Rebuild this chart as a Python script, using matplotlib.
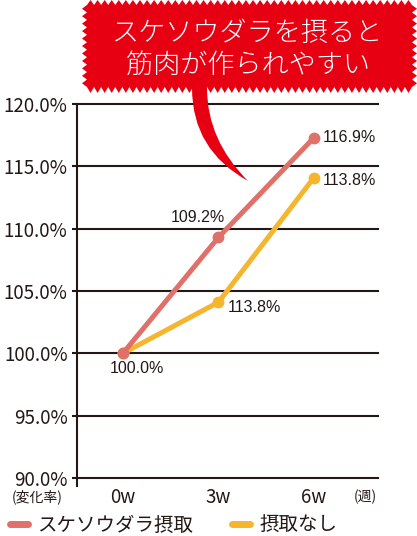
import numpy as np
import matplotlib
matplotlib.use("Agg")
import matplotlib.pyplot as plt
from matplotlib.path import Path
from matplotlib.patches import PathPatch, Polygon
from matplotlib.lines import Line2D

plt.rcParams['font.family'] = ['Noto Sans CJK JP', 'DejaVu Sans']

# ---- data ----
categories = ['0w', '3w', '6w']
series_names = ['スケソウダラ摂取', '摂取なし']
intake_values = [100.0, 109.3, 117.3]
no_intake_values = [100.0, 104.1, 114.1]
intake_labels = ['100.0%', '109.2%', '116.9%']
no_intake_labels = ['', '113.8%', '113.8%']
y_ticks = [90, 95, 100, 105, 110, 115, 120]
y_ticklabels = ['90.0%', '95.0%', '100.0%', '105.0%', '110.0%', '115.0%', '120.0%']
callout_lines = ['スケソウダラを摂ると', '筋肉が作られやすい']

RED = '#e0706a'
YEL = '#f5b52e'
DARK = '#231815'
BUBBLE = '#e60012'

W, H = 417, 536
fig = plt.figure(figsize=(W / 100, H / 100), dpi=100)
fig.patch.set_facecolor('white')

left_px, right_px, top_px, bot_px = 77, 378, 104, 486
ax = fig.add_axes([left_px / W, 1 - bot_px / H, (right_px - left_px) / W, (bot_px - top_px) / H])
ax.set_facecolor('none')

x = np.arange(len(categories))
ax.set_xlim(-0.48, 2.67)
ax.set_ylim(89.36, 120.0)

for v in y_ticks:
    ax.axhline(v, color=DARK, lw=1.5, zorder=1, clip_on=False)

ax.plot(x, intake_values, color=RED, lw=3.6, marker='o', ms=7.5, zorder=4,
        solid_capstyle='round', label=series_names[0])
ax.plot(x, no_intake_values, color=YEL, lw=3.6, marker='o', ms=7.5, zorder=3,
        solid_capstyle='round', label=series_names[1])

for s in ['top', 'right', 'bottom']:
    ax.spines[s].set_visible(False)
ax.spines['left'].set_color(DARK)
ax.spines['left'].set_linewidth(1.5)

ax.set_yticks(y_ticks)
ax.set_yticklabels(y_ticklabels, fontsize=13.5, color=DARK)
ax.tick_params(axis='y', length=3.8, width=1.5, color=DARK, pad=3)
ax.set_xticks(x)
ax.set_xticklabels(categories, fontsize=13.5, color=DARK)
ax.tick_params(axis='x', length=0, pad=1)

lab_font = dict(fontsize=11.5, color=DARK, family=['Liberation Sans', 'DejaVu Sans'])
# data labels
ax.annotate(intake_labels[0], (x[0], intake_values[0]), xytext=(10, -11),
            textcoords='offset points', ha='center', va='center', **lab_font)
ax.annotate(intake_labels[1], (x[1], intake_values[1]), xytext=(-15, 14.5),
            textcoords='offset points', ha='center', va='center', **lab_font)
ax.annotate(intake_labels[2], (x[2], intake_values[2]), xytext=(6, 0),
            textcoords='offset points', ha='left', va='center', **lab_font)
ax.annotate(no_intake_labels[1], (x[1], no_intake_values[1]), xytext=(6.5, -3.6),
            textcoords='offset points', ha='left', va='center', **lab_font)
ax.annotate(no_intake_labels[2], (x[2], no_intake_values[2]), xytext=(6, -2),
            textcoords='offset points', ha='left', va='center', **lab_font)

# overlay in pixel coordinates for callout and small labels
ov = fig.add_axes([0, 0, 1, 1], zorder=10)
ov.set_xlim(0, W)
ov.set_ylim(H, 0)
ov.set_axis_off()
ov.patch.set_alpha(0)

ov.text(37, 497, '(変化率)', fontsize=10, color=DARK, ha='center', va='center')
ov.text(365, 497, '(週)', fontsize=10, color=DARK, ha='center', va='center')

# zigzag bubble
x0, x1, y0, y1 = 87, 412, 5, 87
amp, per = 5, 7.0
pts = []
n_h = int((x1 - x0) / per)
xs = np.linspace(x0, x1, n_h * 2 + 1)
for i, xx in enumerate(xs):
    pts.append((xx, y0 - (amp if i % 2 else 0)))
n_v = int((y1 - y0) / per)
ys = np.linspace(y0, y1, n_v * 2 + 1)
for i, yy in enumerate(ys[1:], 1):
    pts.append((x1 + (amp if i % 2 else 0), yy))
for i, xx in enumerate(xs[::-1][1:], 1):
    pts.append((xx, y1 + (amp + 1 if i % 2 else 0)))
for i, yy in enumerate(ys[::-1][1:-1], 1):
    pts.append((x0 - (amp if i % 2 else 0), yy))
ov.add_patch(Polygon(pts, closed=True, facecolor=BUBBLE, edgecolor='none'))

# tail
verts = [(192, 80), (192, 88), (192, 150), (248, 181), (207, 140), (207, 88), (207, 80), (192, 80)]
codes = [Path.MOVETO, Path.LINETO, Path.CURVE3, Path.CURVE3, Path.CURVE3, Path.CURVE3,
         Path.LINETO, Path.CLOSEPOLY]
ov.add_patch(PathPatch(Path(verts, codes), facecolor=BUBBLE, edgecolor='none'))

ov.text(248, 33, callout_lines[0], fontsize=19.5, color='white', ha='center', va='center',
        fontweight='light')
ov.text(248, 65, callout_lines[1], fontsize=19.5, color='white', ha='center', va='center',
        fontweight='light')

# legend
h1 = Line2D([], [], color=RED, lw=5, solid_capstyle='round')
h2 = Line2D([], [], color=YEL, lw=5, solid_capstyle='round')
leg = fig.legend([h1, h2], series_names, loc='center left',
                 bbox_to_anchor=(10 / W, 1 - 525 / H), ncol=2, frameon=False,
                 prop={'size': 14}, handlelength=0.9, handletextpad=0.5,
                 columnspacing=2.0, borderpad=0, borderaxespad=0)
for t in leg.get_texts():
    t.set_color(DARK)

fig.savefig('out.png', dpi=100, facecolor='white')
